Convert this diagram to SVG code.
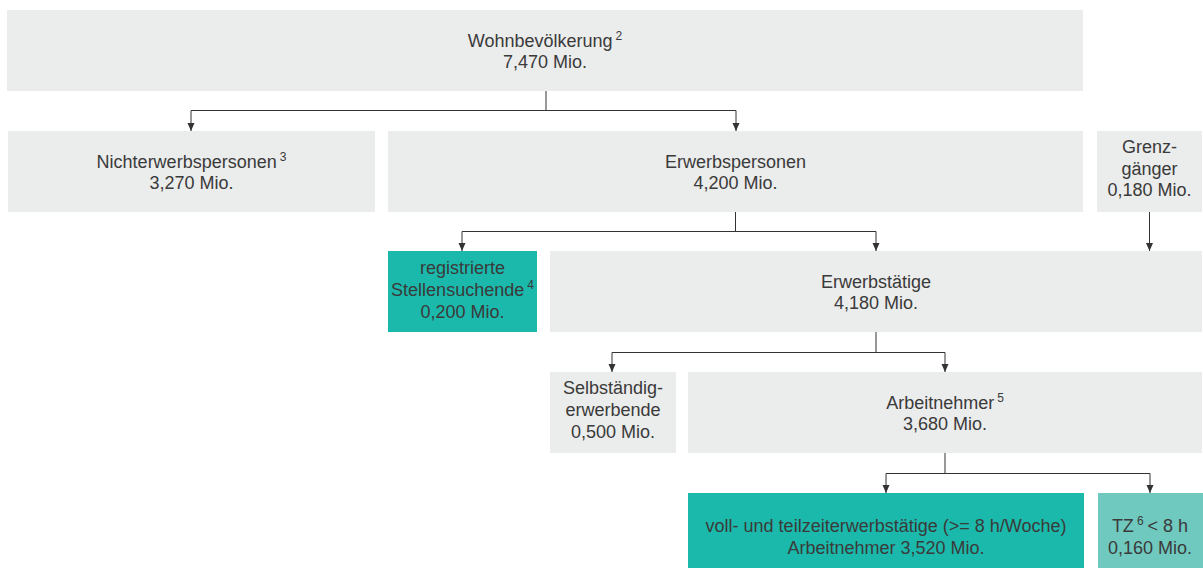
<svg xmlns="http://www.w3.org/2000/svg" width="1203" height="568" viewBox="0 0 1203 568">
<style>
.g{fill:#EBECEC}
.t{fill:#1BB9AB}
.l{fill:#70C9BF}
text{font-family:"Liberation Sans",Arial,sans-serif;font-size:18px;fill:#3a3a3a;text-anchor:middle}
.sup{font-size:12px}
.c{fill:none;stroke:#333;stroke-width:1}
</style>
<defs>
<marker id="ah" viewBox="0 0 8 10" refX="8" refY="5" markerWidth="8" markerHeight="10" markerUnits="userSpaceOnUse" orient="auto">
<path d="M0,1.5 L8,5 L0,8.5 Z" fill="#333"/>
</marker>
</defs>
<rect width="1203" height="568" fill="#fff"/>
<g id="wohnbevoelkerung">
<rect class="g" x="7" y="10" width="1076" height="81"/>
<text x="545" y="47">Wohnbevölkerung<tspan class="sup" dx="3" dy="-7">2</tspan></text>
<text x="545" y="68">7,470 Mio.</text>
</g>
<g id="nichterwerbspersonen">
<rect class="g" x="8" y="131" width="367" height="81"/>
<text x="191.5" y="168">Nichterwerbspersonen<tspan class="sup" dx="3" dy="-7">3</tspan></text>
<text x="191.5" y="189">3,270 Mio.</text>
</g>
<g id="erwerbspersonen">
<rect class="g" x="388" y="131" width="695" height="81"/>
<text x="735.5" y="168">Erwerbspersonen</text>
<text x="735.5" y="189">4,200 Mio.</text>
</g>
<g id="grenzgaenger">
<rect class="g" x="1097" y="131" width="105" height="81"/>
<text x="1149.5" y="153">Grenz-</text>
<text x="1149.5" y="174.5">gänger</text>
<text x="1149.5" y="196">0,180 Mio.</text>
</g>
<g id="stellensuchende">
<rect class="t" x="388" y="251" width="149" height="81"/>
<text x="462.5" y="274">registrierte</text>
<text x="462.5" y="296">Stellensuchende<tspan class="sup" dx="3" dy="-7">4</tspan></text>
<text x="462.5" y="318">0,200 Mio.</text>
</g>
<g id="erwerbstaetige">
<rect class="g" x="550" y="251" width="652" height="81"/>
<text x="876" y="288">Erwerbstätige</text>
<text x="876" y="309">4,180 Mio.</text>
</g>
<g id="selbstaendig">
<rect class="g" x="550" y="372" width="126" height="81"/>
<text x="613" y="394">Selbständig-</text>
<text x="613" y="416">erwerbende</text>
<text x="613" y="437.5">0,500 Mio.</text>
</g>
<g id="arbeitnehmer">
<rect class="g" x="688" y="372" width="514" height="81"/>
<text x="945" y="409">Arbeitnehmer<tspan class="sup" dx="3" dy="-7">5</tspan></text>
<text x="945" y="430">3,680 Mio.</text>
</g>
<g id="vollteilzeit">
<rect class="t" x="688" y="493" width="396" height="80"/>
<text x="886" y="532">voll- und teilzeiterwerbstätige (&gt;= 8 h/Woche)</text>
<text x="886" y="554">Arbeitnehmer 3,520 Mio.</text>
</g>
<g id="tz">
<rect class="l" x="1098" y="493" width="105" height="80"/>
<text x="1150" y="532">TZ<tspan class="sup" dx="3" dy="-7">6</tspan><tspan dx="4" dy="7">&lt; 8 h</tspan></text>
<text x="1150" y="554">0,160 Mio.</text>
</g>
<g id="connectors">
<path class="c" d="M546,91 V110.5 M191,110.5 H736"/>
<path class="c" d="M191,110.5 V131" marker-end="url(#ah)"/>
<path class="c" d="M736,110.5 V131" marker-end="url(#ah)"/>
<path class="c" d="M735.5,212 V231.5 M462,231.5 H876"/>
<path class="c" d="M462,231.5 V251" marker-end="url(#ah)"/>
<path class="c" d="M876,231.5 V251" marker-end="url(#ah)"/>
<path class="c" d="M1149.5,212 V251" marker-end="url(#ah)"/>
<path class="c" d="M876,332 V352.5 M612,352.5 H945"/>
<path class="c" d="M612,352.5 V372" marker-end="url(#ah)"/>
<path class="c" d="M945,352.5 V372" marker-end="url(#ah)"/>
<path class="c" d="M945,453 V473.5 M886,473.5 H1150"/>
<path class="c" d="M886,473.5 V493" marker-end="url(#ah)"/>
<path class="c" d="M1150,473.5 V493" marker-end="url(#ah)"/>
</g>
</svg>
